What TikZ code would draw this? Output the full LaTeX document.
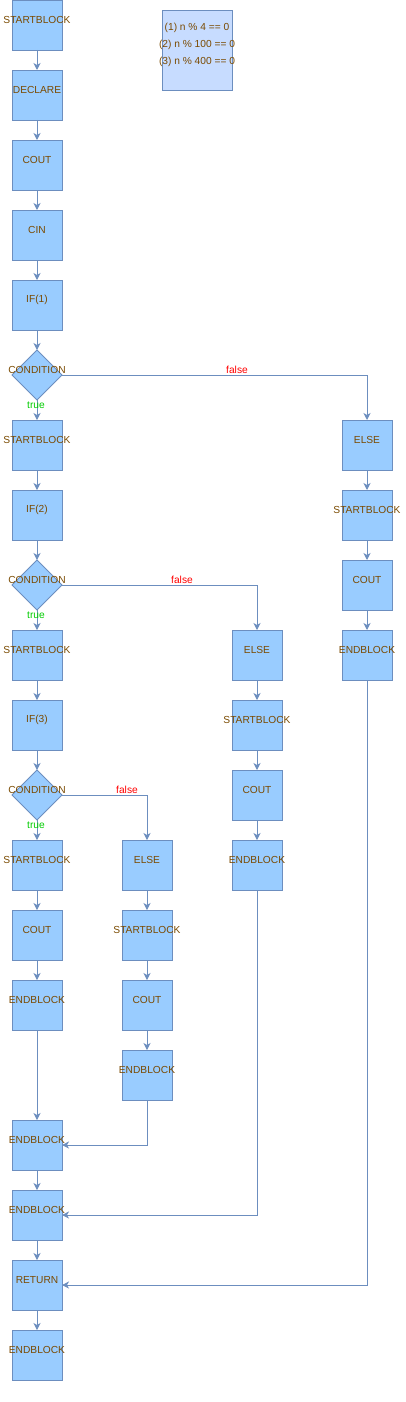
\documentclass[tikz,border=0pt]{standalone}
\usepackage{fontspec}
\setmainfont{Liberation Sans}
\usetikzlibrary{shapes.geometric,arrows.meta,calc}
\definecolor{boxfill}{HTML}{99CCFF}
\definecolor{legfill}{HTML}{C7DCFF}
\definecolor{edge}{HTML}{6C8EBF}
\definecolor{txtc}{HTML}{7A4A00}
\definecolor{truec}{HTML}{00CC00}
\definecolor{falsec}{HTML}{FF0000}
\tikzset{
  x=1pt, y=-1pt,
  every node/.style={font=\fontsize{10.2}{12}\selectfont},
  blk/.style={draw=edge, fill=boxfill, line width=0.9pt, minimum width=50pt, minimum height=50pt, inner sep=0pt, outer sep=0pt},
  cond/.style={draw=edge, fill=boxfill, line width=0.9pt, diamond, minimum width=50pt, minimum height=50pt, inner sep=0pt, outer sep=0pt},
  txt/.style={text=txtc, inner sep=0pt},
  conn/.style={draw=edge, line width=0.9pt, -{Stealth[length=7pt,width=7pt,inset=2pt]}},
  tlab/.style={text=truec, inner sep=0pt},
  flab/.style={text=falsec, inner sep=0pt},
}
\newcommand{\blkat}[4]{\node[blk] (#1) at (#2,#3+25) {}; \node[txt] at (#2,#3+20) {#4};}
\newcommand{\condat}[3]{\node[cond] (#1) at (#2,#3+25) {}; \node[txt] at (#2,#3+20) {CONDITION};}
\begin{document}
\begin{tikzpicture}
\useasboundingbox (0,0) rectangle (406,1402);
% legend
\node[draw=edge, fill=legfill, line width=0.9pt, minimum width=70pt, minimum height=80pt, inner sep=0pt] (legend) at (197,50) {};
\node[txt] at (197,28) {(1) n \% 4 == 0};
\node[txt] at (197,45) {(2) n \% 100 == 0};
\node[txt] at (197,62) {(3) n \% 400 == 0};
% main column
\blkat{a1}{37}{0}{STARTBLOCK}
\blkat{a2}{37}{70}{DECLARE}
\blkat{a3}{37}{140}{COUT}
\blkat{a4}{37}{210}{CIN}
\blkat{a5}{37}{280}{IF(1)}
\condat{c1}{37}{350}
\blkat{b1}{37}{420}{STARTBLOCK}
\blkat{b2}{37}{490}{IF(2)}
\condat{c2}{37}{560}
\blkat{d1}{37}{630}{STARTBLOCK}
\blkat{d2}{37}{700}{IF(3)}
\condat{c3}{37}{770}
\blkat{e1}{37}{840}{STARTBLOCK}
\blkat{e2}{37}{910}{COUT}
\blkat{e3}{37}{980}{ENDBLOCK}
\blkat{m1}{37}{1120}{ENDBLOCK}
\blkat{m2}{37}{1190}{ENDBLOCK}
\blkat{m3}{37}{1260}{RETURN}
\blkat{m4}{37}{1330}{ENDBLOCK}
% column 4
\blkat{f1}{367}{420}{ELSE}
\blkat{f2}{367}{490}{STARTBLOCK}
\blkat{f3}{367}{560}{COUT}
\blkat{f4}{367}{630}{ENDBLOCK}
% column 3
\blkat{g1}{257}{630}{ELSE}
\blkat{g2}{257}{700}{STARTBLOCK}
\blkat{g3}{257}{770}{COUT}
\blkat{g4}{257}{840}{ENDBLOCK}
% column 2
\blkat{h1}{147}{840}{ELSE}
\blkat{h2}{147}{910}{STARTBLOCK}
\blkat{h3}{147}{980}{COUT}
\blkat{h4}{147}{1050}{ENDBLOCK}
% vertical connectors
\foreach \p/\q in {a1/a2,a2/a3,a3/a4,a4/a5,a5/c1,c1/b1,b1/b2,b2/c2,c2/d1,d1/d2,d2/c3,c3/e1,e1/e2,e2/e3,e3/m1,m1/m2,m2/m3,m3/m4,
  f1/f2,f2/f3,f3/f4,g1/g2,g2/g3,g3/g4,h1/h2,h2/h3,h3/h4}
  \draw[conn] (\p.south) -- (\q.north);
% false branches
\draw[conn] (c1.east) -| (f1.north);
\draw[conn] (c2.east) -| (g1.north);
\draw[conn] (c3.east) -| (h1.north);
\node[flab] at (237,370) {false};
\node[flab] at (182,580) {false};
\node[flab] at (127,790) {false};
\node[tlab] at (36,405) {true};
\node[tlab] at (36,615) {true};
\node[tlab] at (36,825) {true};
% merges
\draw[conn] (h4.south) |- (m1.east);
\draw[conn] (g4.south) |- (m2.east);
\draw[conn] (f4.south) |- (m3.east);
\end{tikzpicture}
\end{document}
